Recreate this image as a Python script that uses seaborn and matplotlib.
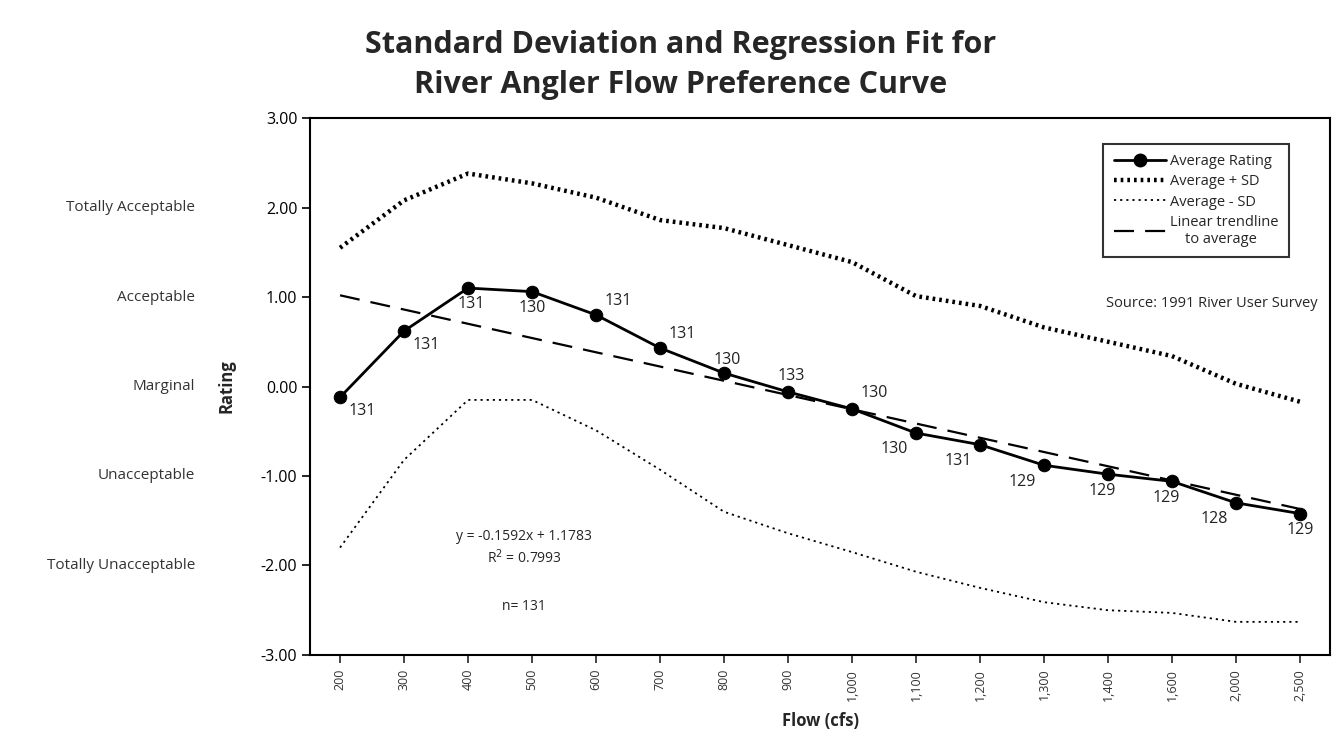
import matplotlib
matplotlib.use("Agg")
import matplotlib.pyplot as plt
import seaborn as sns
import numpy as np
import pandas as pd
from matplotlib.ticker import MultipleLocator
from matplotlib.lines import Line2D

flows = ["200", "300", "400", "500", "600", "700", "800", "900", "1,000",
         "1,100", "1,200", "1,300", "1,400", "1,600", "2,000", "2,500"]
avg = [-0.12, 0.62, 1.10, 1.06, 0.80, 0.43, 0.15, -0.06, -0.25,
       -0.52, -0.65, -0.88, -0.98, -1.06, -1.30, -1.42]
avg_plus_sd = [1.55, 2.08, 2.38, 2.27, 2.11, 1.86, 1.77, 1.58, 1.39,
               1.01, 0.90, 0.66, 0.50, 0.34, 0.03, -0.17]
avg_minus_sd = [-1.80, -0.82, -0.15, -0.15, -0.49, -0.93, -1.40, -1.64, -1.85,
                -2.07, -2.25, -2.41, -2.50, -2.53, -2.63, -2.63]
n_resp = [131, 131, 131, 130, 131, 131, 130, 133, 130,
          130, 131, 129, 129, 129, 128, 129]
slope, intercept = -0.1592, 1.1783
rating_labels = ["Totally Acceptable", "Acceptable", "Marginal",
                 "Unacceptable", "Totally Unacceptable"]
rating_levels = [2, 1, 0, -1, -2]

# label placement (offset points, ha, va)
label_pos = [(6, -4, "left", "top"), (6, -4, "left", "top"),
             (2, -6, "center", "top"), (0, -6, "center", "top"),
             (6, 4, "left", "bottom"), (6, 4, "left", "bottom"),
             (2, 4, "center", "bottom"), (2, 6, "center", "bottom"),
             (6, 6, "left", "bottom"), (-6, -6, "right", "top"),
             (-6, -6, "right", "top"), (-6, -6, "right", "top"),
             (-4, -6, "center", "top"), (-4, -6, "center", "top"),
             (-6, -6, "right", "top"), (0, -6, "center", "top")]

sns.set_style("white")
plt.rcParams['font.family'] = ['Open Sans', 'DejaVu Sans']

idx = np.arange(len(flows))
df = pd.DataFrame({"x": idx, "avg": avg, "plus": avg_plus_sd,
                   "minus": avg_minus_sd,
                   "trend": slope * (idx + 1) + intercept})

fig = plt.figure(figsize=(13.35, 7.4), dpi=100)
ax = fig.add_axes([0.2322, 0.1149, 0.7641, 0.7256])

sns.lineplot(data=df, x="x", y="plus", ax=ax, color="black", lw=3.2,
             linestyle=(0, (0.6, 0.9)), dash_capstyle="butt")
sns.lineplot(data=df, x="x", y="minus", ax=ax, color="black", lw=1.3,
             linestyle=(0, (1.2, 2.2)))
sns.lineplot(data=df, x="x", y="trend", ax=ax, color="black", lw=1.6,
             linestyle=(0, (9, 5)))
sns.lineplot(data=df, x="x", y="avg", ax=ax, color="black", lw=2,
             marker="o", markersize=9, markeredgecolor="black")

for i, (v, n) in enumerate(zip(avg, n_resp)):
    dx, dy, ha, va = label_pos[i]
    ax.annotate(str(n), (i, v), xytext=(dx, dy), textcoords="offset points",
                ha=ha, va=va, fontsize=11.5, color="#222222")

ax.set_xlim(-0.47, 15.47)
ax.set_ylim(-3, 3)
ax.set_xticks(idx)
ax.set_xticklabels(flows, rotation=90, fontsize=9, color="#333333")
ax.yaxis.set_major_locator(MultipleLocator(1))
ax.yaxis.set_minor_locator(MultipleLocator(0.5))
ax.set_yticklabels([f"{t:.2f}" for t in ax.get_yticks()])
ax.tick_params(axis="y", which="major", direction="out", length=6, width=1.2,
               labelsize=11.5, colors="black", pad=3)
ax.tick_params(axis="y", which="minor", direction="out", length=3, width=1)
ax.tick_params(axis="x", which="major", direction="out", length=6, width=1.2,
               pad=4)
ax.tick_params(left=True, bottom=True)
for s in ax.spines.values():
    s.set_visible(True)
    s.set_color("black")
    s.set_linewidth(1.5)
ax.set_xlabel("Flow (cfs)", fontsize=12, fontweight="bold", labelpad=8)
ax.set_ylabel("Rating", fontsize=12, fontweight="bold", labelpad=18)
ax.grid(False)

for lab, lev in zip(rating_labels, rating_levels):
    ax.annotate(lab, (0, lev), xycoords=("figure fraction", "data"),
                xytext=(195, 0), textcoords=("figure pixels", "offset points"),
                ha="right", va="center", fontsize=11, color="#333333",
                annotation_clip=False)

ax.text(0.21, 0.20, "y = -0.1592x + 1.1783\nR$^2$ = 0.7993",
        transform=ax.transAxes, ha="center", va="center", fontsize=10,
        linespacing=1.3)
ax.text(0.21, 0.09, "n= 131", transform=ax.transAxes, ha="center",
        va="center", fontsize=10)
ax.text(0.988, 0.655, "Source: 1991 River User Survey", transform=ax.transAxes,
        ha="right", va="center", fontsize=10.5)

handles = [
    Line2D([], [], color="black", lw=2, marker="o", markersize=9),
    Line2D([], [], color="black", lw=3.2, linestyle=(0, (0.6, 0.9))),
    Line2D([], [], color="black", lw=1.3, linestyle=(0, (1.2, 2.2))),
    Line2D([], [], color="black", lw=1.6, linestyle=(0, (9, 5))),
]
leg = ax.legend(handles, ["Average Rating", "Average + SD", "Average - SD",
                          "Linear trendline\n    to average"],
                loc="upper right", bbox_to_anchor=(0.967, 0.965),
                frameon=True, fancybox=False, fontsize=10.5, handlelength=3.6,
                handletextpad=0.3, borderpad=0.7, labelspacing=0.35)
leg.get_frame().set_edgecolor("black")
leg.get_frame().set_linewidth(1.5)

fig.text(0.51, 0.912, "Standard Deviation and Regression Fit for\nRiver Angler Flow Preference Curve",
         ha="center", va="center", fontsize=22, fontweight="bold",
         linespacing=1.45)

fig.savefig("out.png", dpi=100)
